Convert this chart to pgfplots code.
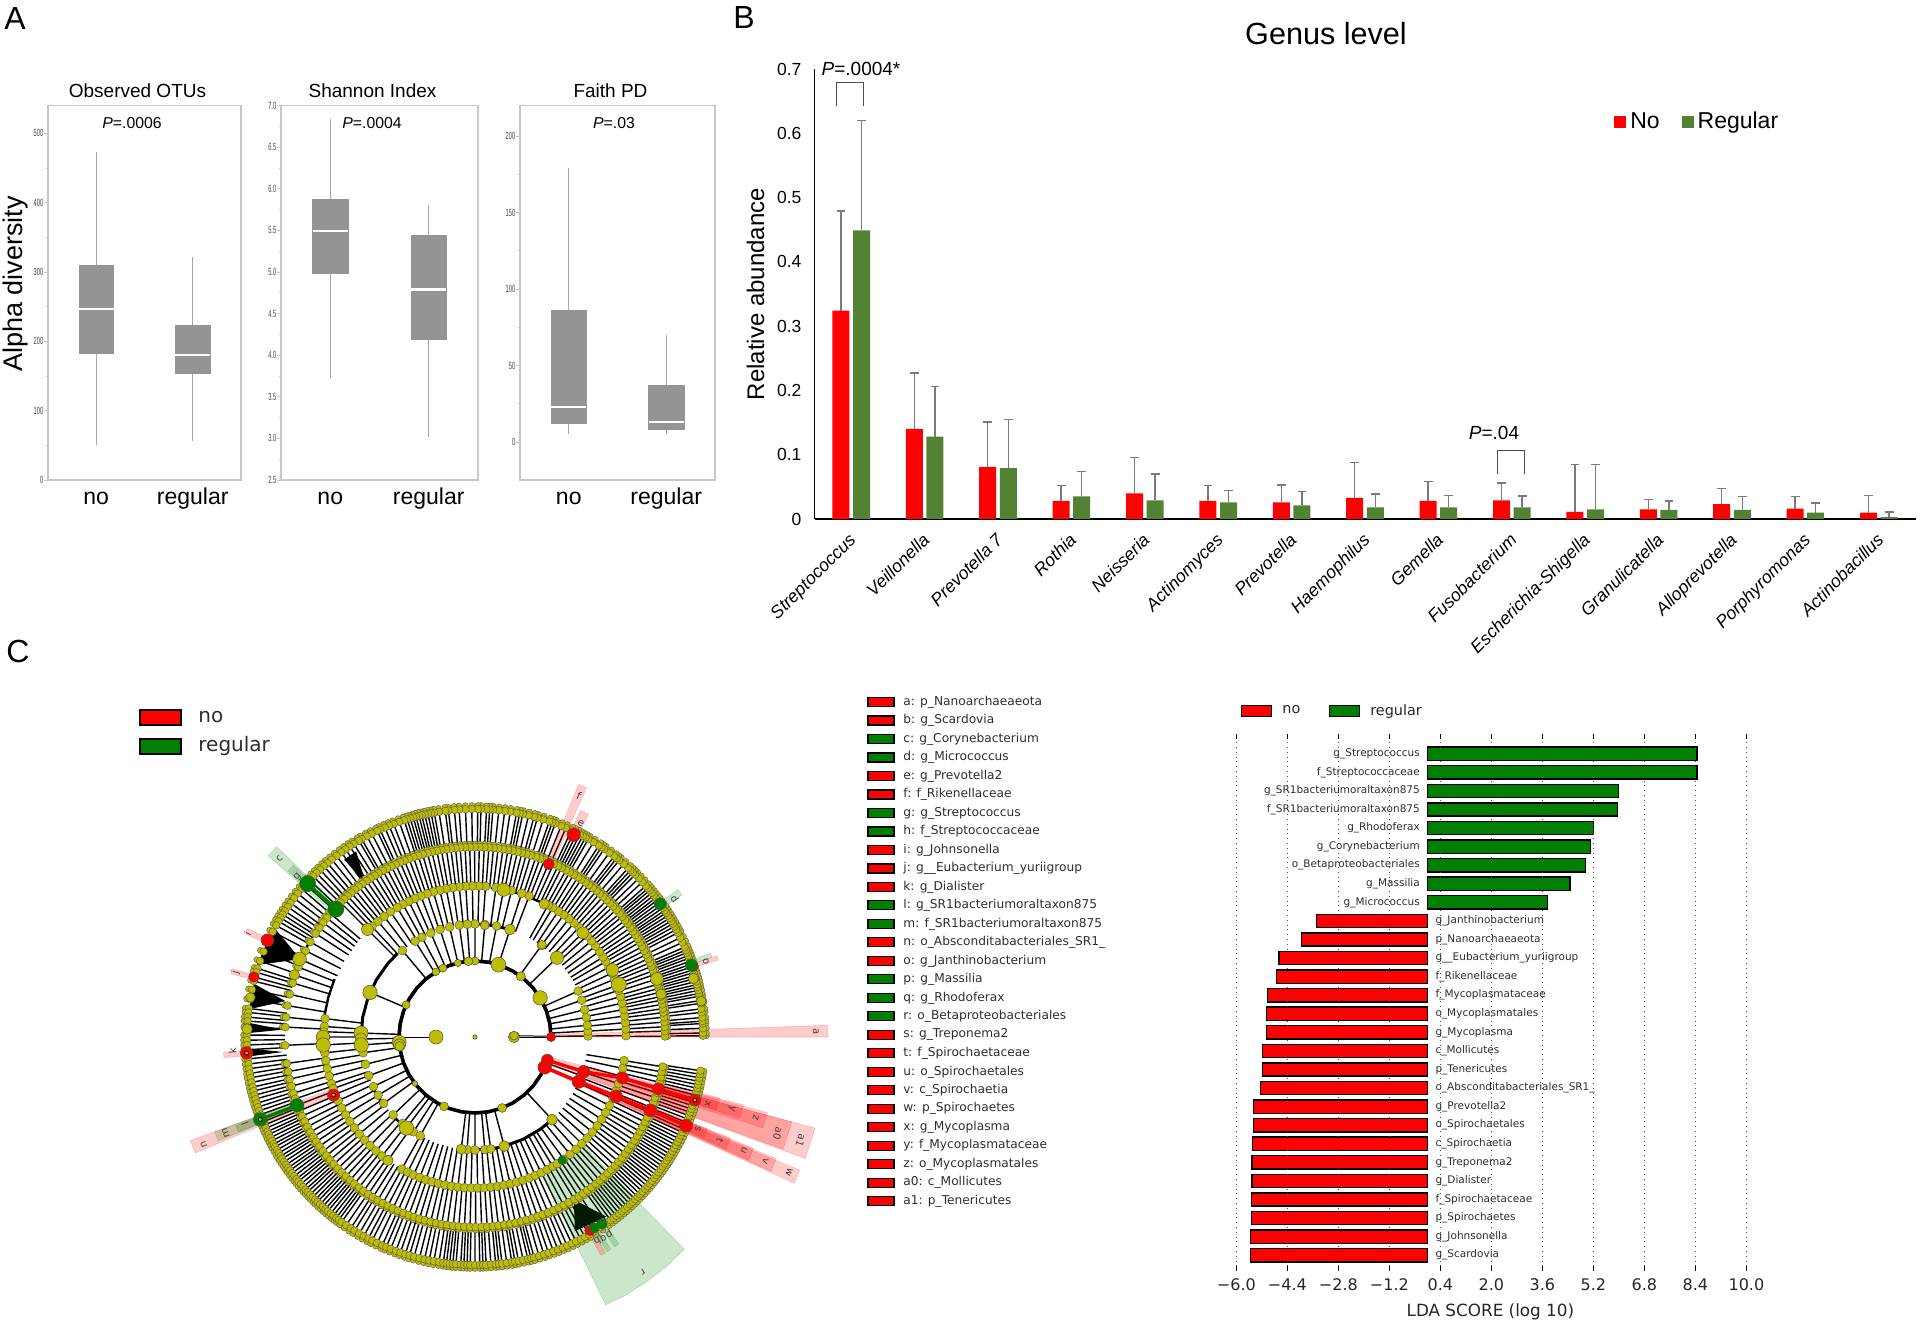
\documentclass[border=0pt]{standalone}
\usepackage{fontspec}
\usepackage{pgfplots}
\usepackage{pgfplotstable}
\pgfplotsset{compat=1.18}
\usepgfplotslibrary{polar}
\setmainfont{Liberation Sans}
\newfontfamily\dejavu{DejaVu Sans}
\newcommand{\fs}[1]{\fontsize{#1}{#1}\selectfont}
\definecolor{rd}{RGB}{255,0,0}
\definecolor{gn}{RGB}{0,128,0}
\definecolor{gnB}{RGB}{84,130,53}
\definecolor{ly}{RGB}{190,190,0}
\definecolor{boxg}{RGB}{148,148,148}
\definecolor{wisk}{RGB}{166,166,166}
\definecolor{spine}{RGB}{200,200,200}
\definecolor{txt}{RGB}{45,45,45}

% panel A, one style for the three box axes
\pgfplotsset{
  alpha/.style={
    scale only axis, clip=false, xmin=0, xmax=2, xtick={0.5,1.5}, xticklabels={no,regular},
    axis line style={spine, line width=0.6pt},
    x tick style={draw=none}, ytick pos=left, tick align=outside,
    y tick style={spine, line width=0.4pt}, major tick length=2pt, minor tick length=1.2pt,
    minor y tick num=1,
    xticklabel style={font=\fs{11.5}, anchor=base, yshift=-10.3pt},
    yticklabel style={font=\fs{5.2}, xscale=0.55, text=black!75, inner sep=0.5pt},
    /pgf/number format/assume math mode=true,
    title style={font=\fs{9.5}, at={(axis description cs:0.5,1)}, anchor=base, yshift=-1.8pt, xshift=-3.5pt},
  },
  wh/.style={wisk, line width=0.65pt},
  bx/.style={fill=boxg, draw=boxg, line width=0.3pt},
  md/.style={white, line width=1.1pt},
  nd/.style={only marks, mark=*, mark size=1.9pt, mark options={fill=ly, draw=black!65, line width=0.22pt}},
  big/.style={only marks, mark=*, scatter, scatter/use mapped color={draw=black!70, fill=#1}, line width=0.25pt,
    visualization depends on={\thisrow{s} \as \ms},
    scatter/@pre marker code/.append style={/tikz/mark size=\ms pt}},
  cover/.style={fill=white, draw=none, mark=none},
  sect/.style={fill=#1, fill opacity=0.2, draw=#1, draw opacity=0.2, line width=0.3pt},
  spoke/.style={polar comb, black, line width=0.7pt, mark=none},
  arc/.style={black, line width=#1, mark=none},
}

% genus level means and SD, panel B
\pgfplotstableread{
x y err
0 .324 .155
1 .140 .087
2 .081 .070
3 .028 .024
4 .040 .056
5 .028 .024
6 .026 .027
7 .033 .055
8 .028 .030
9 .029 .027
10 .011 .074
11 .015 .015
12 .023 .024
13 .016 .019
14 .010 .027
}\tabNo
\pgfplotstableread{
x y err
0 .449 .171
1 .128 .078
2 .079 .076
3 .035 .039
4 .029 .041
5 .026 .018
6 .021 .022
7 .018 .021
8 .018 .019
9 .018 .018
10 .015 .070
11 .014 .014
12 .014 .021
13 .010 .015
14 .003 .008
}\tabReg

% LDA scores
\pgfplotstableread{
y x lab
27 8.45 g\_Streptococcus
26 8.45 f\_Streptococcaceae
25 5.98 g\_SR1bacteriumoraltaxon875
24 5.96 f\_SR1bacteriumoraltaxon875
23 5.20 g\_Rhodoferax
22 5.11 g\_Corynebacterium
21 4.96 o\_Betaproteobacteriales
20 4.47 g\_Massilia
19 3.75 g\_Micrococcus
}\ldaReg
\pgfplotstableread{
y x lab
18 -3.48 g\_Janthinobacterium
17 -3.955 p\_Nanoarchaeaeota
16 -4.66 g\_\_Eubacterium\_yuriigroup
15 -4.74 f\_Rikenellaceae
14 -5.03 f\_Mycoplasmataceae
13 -5.05 o\_Mycoplasmatales
12 -5.05 g\_Mycoplasma
11 -5.19 c\_Mollicutes
10 -5.19 p\_Tenericutes
9 -5.25 o\_Absconditabacteriales\_SR1\_
8 -5.47 g\_Prevotella2
7 -5.47 o\_Spirochaetales
6 -5.49 c\_Spirochaetia
5 -5.51 g\_Treponema2
4 -5.51 g\_Dialister
3 -5.53 f\_Spirochaetaceae
2 -5.53 p\_Spirochaetes
1 -5.56 g\_Johnsonella
0 -5.56 g\_Scardovia
}\ldaNo

% cladogram: angles of the tips on each ring
\pgfplotstableread[header=false,row sep=\\]{
0.3\\1.0\\2.2\\3.4\\4.0\\4.9\\6.2\\7.1\\8.5\\9.2\\10.3\\11.0\\11.8\\12.6\\13.3\\14.1\\14.9\\15.6\\16.4\\17.1\\17.9\\18.6\\19.4\\20.2\\20.9\\21.7\\22.4\\23.2\\24.5\\25.8\\27.2\\28.1\\29.0\\29.8\\30.6\\31.4\\32.2\\33.0\\33.7\\34.5\\35.3\\36.1\\36.9\\37.6\\38.4\\39.2\\40.0\\40.7\\41.5\\42.8\\44.1\\45.4\\46.2\\47.0\\47.8\\49.3\\50.8\\51.6\\52.4\\53.9\\55.5\\56.3\\57.1\\58.7\\60.2\\
61.0\\61.8\\62.6\\63.4\\64.2\\65.0\\66.5\\67.8\\69.4\\70.2\\71.0\\72.6\\74.1\\75.0\\76.4\\77.9\\78.7\\79.5\\81.1\\82.5\\84.0\\85.5\\86.3\\87.1\\88.5\\89.3\\90.8\\92.4\\94.0\\95.2\\96.7\\97.5\\99.1\\100.3\\101.1\\101.9\\102.7\\103.5\\104.2\\105.0\\105.7\\106.5\\107.3\\108.1\\109.4\\110.9\\112.1\\113.3\\114.6\\115.4\\116.9\\118.3\\119.8\\120.6\\122.1\\123.3\\124.6\\125.9\\127.4\\128.9\\130.3\\131.5\\132.8\\134.0\\135.2\\136.5\\138.0\\139.5\\141.0\\142.5\\144.0\\145.2\\146.5\\147.5\\148.5\\149.5\\150.7\\
152.5\\155.0\\158.0\\160.5\\162.5\\163.5\\164.8\\165.8\\168.0\\170.5\\172.8\\173.8\\175.0\\176.0\\177.5\\179.5\\180.8\\182.0\\183.2\\185.5\\186.8\\188.0\\189.2\\190.3\\191.5\\192.7\\193.7\\194.8\\195.8\\196.9\\197.9\\198.9\\199.9\\200.9\\201.8\\202.7\\203.6\\204.5\\205.3\\206.2\\207.1\\208.0\\208.8\\209.7\\210.6\\211.5\\212.3\\213.2\\214.1\\215.0\\215.8\\216.7\\217.6\\218.5\\219.3\\220.2\\221.1\\222.0\\222.8\\223.7\\224.6\\225.5\\226.3\\227.2\\228.1\\229.0\\229.8\\230.7\\231.6\\232.5\\233.3\\234.2\\235.6\\237.0\\238.1\\239.5\\240.8\\242.1\\243.2\\244.6\\246.0\\247.1\\248.3\\249.7\\250.9\\252.2\\253.3\\254.5\\255.9\\257.2\\258.4\\259.6\\260.9\\262.0\\262.8\\263.6\\264.4\\265.2\\266.4\\267.2\\268.0\\268.8\\270.0\\271.2\\272.0\\272.8\\274.0\\275.2\\276.0\\276.8\\278.0\\279.3\\280.1\\281.0\\282.2\\283.4\\284.2\\285.0\\286.3\\287.6\\288.8\\290.1\\291.3\\292.6\\293.8\\295.1\\296.3\\297.6\\298.8\\300.0\\
301.5\\303.5\\305.5\\306.5\\307.4\\308.3\\309.2\\310.1\\311.0\\311.9\\312.8\\313.7\\314.6\\315.5\\316.4\\317.3\\318.2\\319.1\\320.0\\320.9\\321.8\\322.7\\323.6\\324.5\\325.4\\326.3\\327.2\\328.1\\329.0\\329.9\\330.8\\331.7\\332.6\\333.5\\334.4\\335.3\\336.2\\337.1\\338.0\\338.9\\339.8\\340.7\\341.6\\342.5\\343.4\\344.3\\345.2\\346.1\\347.0\\347.9\\348.8\\349.7\\350.6\\351.5\\
}\ringF
\pgfplotstableread[header=false,row sep=\\]{
0.2\\1.8\\3.1\\4.5\\6.0\\7.4\\8.6\\9.9\\11.2\\12.3\\13.6\\14.8\\16.1\\17.7\\19.2\\20.4\\21.8\\23.0\\24.3\\25.7\\27.0\\28.4\\29.9\\31.1\\32.5\\33.8\\35.1\\36.6\\37.9\\39.3\\40.5\\42.0\\43.4\\44.7\\46.1\\47.6\\49.0\\50.3\\51.7\\53.2\\54.5\\56.0\\57.2\\58.7\\60.1\\61.4\\62.9\\64.1\\65.6\\67.0\\68.6\\70.0\\71.3\\72.9\\74.3\\75.7\\77.1\\78.6\\80.0\\81.5\\83.0\\84.4\\85.8\\87.2\\88.7\\90.1\\91.6\\93.0\\94.5\\95.9\\97.3\\98.7\\100.2\\101.6\\103.1\\104.5\\106.0\\107.4\\108.9\\110.3\\111.8\\113.2\\114.7\\116.1\\117.6\\119.0\\120.5\\121.9\\123.4\\124.8\\126.3\\127.7\\129.2\\130.6\\132.1\\133.5\\135.0\\139.5\\141.2\\143.0\\145.0\\147.0\\150.0\\153.0\\156.0\\158.4\\161.0\\163.5\\167.0\\170.5\\174.0\\177.0\\182.5\\188.0\\190.5\\192.8\\195.0\\197.2\\199.0\\201.0\\202.8\\204.6\\206.4\\208.2\\210.0\\211.7\\213.4\\215.1\\216.9\\218.6\\220.3\\222.0\\223.8\\225.5\\227.2\\228.9\\230.6\\232.4\\234.1\\235.8\\237.5\\239.2\\241.0\\242.7\\244.4\\246.1\\247.9\\249.6\\251.3\\253.0\\254.7\\256.5\\258.2\\259.9\\261.6\\263.4\\265.1\\266.8\\268.5\\270.2\\272.0\\273.7\\275.4\\277.1\\278.9\\280.6\\282.3\\284.0\\285.7\\287.5\\289.2\\290.9\\292.6\\294.4\\296.1\\297.8\\299.5\\301.5\\303.0\\304.6\\306.2\\307.8\\309.4\\311.0\\312.6\\314.2\\315.8\\317.4\\319.0\\320.6\\322.2\\323.8\\325.4\\327.0\\328.6\\330.2\\331.8\\333.4\\335.0\\336.6\\338.2\\339.8\\341.4\\343.0\\344.6\\346.2\\347.8\\349.4\\351.0\\
}\ringE
\pgfplotstableread[header=false,row sep=\\]{
0.5\\3.0\\5.5\\8.0\\10.5\\13.0\\15.5\\18.0\\20.0\\22.5\\25.0\\27.5\\30.0\\32.0\\34.5\\37.0\\39.5\\42.0\\44.0\\46.5\\49.0\\51.5\\54.0\\56.5\\59.0\\61.0\\69.0\\72.0\\76.0\\79.0\\82.0\\86.0\\88.5\\91.0\\93.5\\96.0\\98.5\\101.0\\103.5\\106.0\\108.5\\111.0\\113.5\\116.0\\118.5\\121.0\\124.0\\127.0\\130.0\\133.0\\135.0\\173.0\\176.0\\178.0\\180.0\\183.0\\186.0\\189.0\\192.0\\195.0\\198.0\\200.0\\202.3\\205.0\\208.0\\211.0\\214.0\\217.0\\220.0\\223.0\\226.0\\229.0\\232.0\\234.8\\241.0\\243.5\\246.0\\248.5\\251.0\\253.5\\256.0\\258.5\\261.0\\263.5\\266.0\\268.5\\271.0\\273.5\\276.0\\278.5\\281.0\\283.5\\286.0\\288.5\\291.0\\293.5\\296.0\\298.5\\301.0\\303.0\\306.0\\309.0\\312.0\\315.0\\318.0\\321.0\\324.0\\327.0\\330.0\\333.0\\336.0\\339.0\\342.0\\345.0\\348.0\\351.0\\
}\ringD
\pgfplotstableread[header=false,row sep=\\]{
0.5\\3.0\\6.0\\10.0\\14.0\\19.0\\24.0\\44.0\\54.0\\72.0\\79.0\\85.0\\90.0\\94.0\\98.0\\103.0\\108.0\\113.0\\118.0\\122.0\\130.0\\157.0\\178.0\\181.0\\184.0\\188.0\\194.0\\200.0\\206.0\\211.0\\216.0\\223.6\\230.0\\233.0\\237.0\\241.0\\263.0\\266.0\\270.0\\275.0\\278.0\\285.0\\313.0\\336.5\\340.0\\342.3\\
}\ringC
% white discs between the rings
\pgfplotstableread[header=false,row sep=\\]{
0\\10\\20\\30\\40\\50\\60\\70\\80\\90\\100\\110\\120\\130\\140\\150\\160\\170\\180\\190\\200\\210\\220\\230\\240\\250\\260\\270\\280\\290\\300\\310\\320\\330\\340\\350\\
}\disc

% bigger nodes
\pgfplotstableread{
a r s
0 0 1.1
180 39 3.5
0 39 2.8
2 39 2.2
155 76 2.0
184 76 3.5
186 76 3.0
187 76 2.4
217.8 76 1.4
246 76 2.2
291 76 2.2
31 76 3.6
53 76 2.3
72 76 3.7
90 76 2.0
95 76 2.2
103 76 1.8
115 76 2.0
121 76 1.9
157 114 3.6
178 114 3.5
181 114 3.0
184 114 3.6
233 114 3.6
263 113 2.5
285 113 2.7
313 113 2.7
44 114 3.3
54 114 2.2
72 113 2.7
85 112 2.2
180 152 3.4
183 152 3.6
135 152 3.0
79 150 3.3
62.5 150 2.6
44 150 3.0
20 153 3.8
26 153 3.2
234.8 151 2.6
156 192 3.4
161 191 2.6
17.7 191 3.2
13 191 2.6
9 229 2.4
15 226 2.6
170 228 2.4
178 228 2.6
}\bigY
\pgfplotstableread{
a r s
0 76 2.3
342.2 76 3.0
336.5 76 3.4
342.3 114 3.1
336.7 113 3.3
344.5 153 3.0
337.2 153 3.2
344.2 190.6 3.0
337.3 190 3.2
344 228.7 3.0
337.2 229 3.2
66.9 188 2.8
64 225 3.4
155 229 3.2
164.8 229 2.6
184 229 3.1
202.3 153 3.0
18.0 229 2.8
300.7 225 2.6
}\bigR
\pgfplotstableread{
a r s
137.5 227 4.0
137.4 189 4.0
201 230 3.4
201 190.5 3.4
305.3 151 2.2
35.7 228 3.0
18.4 228 3.0
302 225 2.6
304.2 226 2.6
}\bigG

\begin{document}
\begin{tikzpicture}
\path[use as bounding box] (0pt,0pt) rectangle (960pt,661.5pt);

% ---- panel C, cladogram
\begin{polaraxis}[at={(57.5pt,-37pt)}, anchor=south west, width=360pt, height=360pt, scale only axis,
  hide axis, clip=false, xmin=0, xmax=360, ymin=0, ymax=360]
\addplot[spoke] table[x index=0,y index=0,y expr=228]{\ringF};
\addplot[cover] table[x index=0,y index=0,y expr=190]{\disc} --cycle;
\addplot[spoke] table[x index=0,y index=0,y expr=190]{\ringE};
\addplot[cover] table[x index=0,y index=0,y expr=151]{\disc} --cycle;
\addplot[spoke] table[x index=0,y index=0,y expr=151]{\ringD};
\addplot[cover] table[x index=0,y index=0,y expr=113]{\disc} --cycle;
\addplot[spoke] table[x index=0,y index=0,y expr=113]{\ringC};
\addplot[cover] table[x index=0,y index=0,y expr=76]{\disc} --cycle;
% solid fans where many tips share one parent
\addplot[fill=black,draw=black] coordinates {(156,192)(151.5,229)(161.5,229)} --cycle;
\addplot[fill=black,draw=black] coordinates {(169.3,194)(166.6,227)(172.8,227)} --cycle;
\addplot[fill=black,draw=black] coordinates {(177.8,195)(176.5,227)(178.9,227)} --cycle;
\addplot[fill=black,draw=black] coordinates {(184.4,196)(183,227)(184.8,227)} --cycle;
\addplot[fill=black,draw=black] coordinates {(125.3,191)(126.3,220)(122.8,220)} --cycle;
\addplot[fill=black,draw=black] coordinates {(301.3,191)(297.4,218)(306,222)} --cycle;
% arcs of the clades
\addplot[arc=1.8pt] coordinates {(0,76)(10,76)(20,76)(30,76)(40,76)(50,76)(60,76)(70,76)(80,76)(90,76)(100,76)(110,76)(120,76)(130,76)(140,76)(150,76)(160,76)(170,76)(180,76)(190,76)(200,76)(210,76)(220,76)(230,76)(240,76)(250,76)(260,76)(270,76)(280,76)(290,76)(300,76)(310,76)(320,76)(330,76)(342,76)};
\addplot[arc=1.5pt] coordinates {(133,114)(140,114)(150,114)(160,114)(170,114)(180,114)(185,114)};
\addplot[arc=1.5pt] coordinates {(72,113)(80,113)(88,113)};
\addplot[arc=1.5pt] coordinates {(263,113)(270,113)(280,113)(285,113)(295,113)(305,113)(313,113)};
\addplot[arc=1.2pt] coordinates {(223.6,114)(230,114)(235.8,114)};
\addplot[arc=1.2pt] coordinates {(205,114)(210,114)(215,114)};
\addplot[arc=1.2pt] coordinates {(157.6,152)(165,152)(172,152)(178,152)};
\addplot[arc=1.5pt] coordinates {(297,152)(303,152)(310,152)(315,152)};
\addplot[arc=1.2pt] coordinates {(64,150)(70,150)(76,150)(84,150)};
\addplot[arc=1.2pt] coordinates {(150,191)(155,191)(160,191)};
\addplot[black,line width=0.5pt] coordinates {(180,39)(180,76)};
\addplot[black,line width=0.5pt] coordinates {(0,39)(0,76)};
\addplot[black,line width=0.5pt] coordinates {(2,39)(0.5,76)};
% shaded clades
\addplot[sect=rd] coordinates {(0,76)(1.9,76)(1.9,353)(0,353)} --cycle;
\addplot[sect=rd] coordinates {(339.8,76)(345,76)(345,352)(339.8,352)} --cycle;
\addplot[sect=rd] coordinates {(340,114)(345,114)(345,328)(340,328)} --cycle;
\addplot[sect=rd] coordinates {(342.5,152)(345.5,152)(345.5,302)(342.5,302)} --cycle;
\addplot[sect=rd] coordinates {(343,190)(345.8,190)(345.8,277)(343,277)} --cycle;
\addplot[sect=rd] coordinates {(343.2,228)(346,228)(346,252)(343.2,252)} --cycle;
\addplot[sect=rd] coordinates {(335.4,76)(337.7,76)(337.7,351)(335.4,351)} --cycle;
\addplot[sect=rd] coordinates {(335.6,114)(338,114)(338,325)(335.6,325)} --cycle;
\addplot[sect=rd] coordinates {(335.8,152)(338.2,152)(338.2,300)(335.8,300)} --cycle;
\addplot[sect=rd] coordinates {(336,190)(338.4,190)(338.4,275)(336,275)} --cycle;
\addplot[sect=rd] coordinates {(336.2,228)(338.4,228)(338.4,250)(336.2,250)} --cycle;
\addplot[sect=gn] coordinates {(296,151)(315,151)(314.6,298)(310,299)(305,299)(300,299)(296,298)} --cycle;
\addplot[sect=rd] coordinates {(65.9,188)(67.7,188)(67.7,273)(65.9,273)} --cycle;
\addplot[sect=rd] coordinates {(63,225)(65,225)(65,250)(63,250)} --cycle;
\addplot[sect=gn] coordinates {(136.2,189)(138.8,189)(138.8,275)(136.2,275)} --cycle;
\addplot[sect=gn] coordinates {(136.6,227)(138.4,227)(138.4,250)(136.6,250)} --cycle;
\addplot[sect=gn] coordinates {(34.5,228)(36,228)(36,251)(34.5,251)} --cycle;
\addplot[sect=rd] coordinates {(17.6,228)(18.6,228)(18.6,255)(17.6,255)} --cycle;
\addplot[sect=gn] coordinates {(18.6,228)(19.6,228)(19.6,250)(18.6,250)} --cycle;
\addplot[sect=rd] coordinates {(154.5,228)(155.8,228)(155.8,252)(154.5,252)} --cycle;
\addplot[sect=rd] coordinates {(164.3,228)(165.5,228)(165.5,252)(164.3,252)} --cycle;
\addplot[sect=rd] coordinates {(183.5,228)(184.7,228)(184.7,252)(183.5,252)} --cycle;
\addplot[sect=rd] coordinates {(200,153)(202.5,153)(202.5,303)(200,303)} --cycle;
\addplot[sect=gn] coordinates {(200,190)(202,190)(202,277)(200,277)} --cycle;
\addplot[sect=gn] coordinates {(200.3,230)(201.9,230)(201.9,255)(200.3,255)} --cycle;
\addplot[sect=rd] coordinates {(300,225)(301.2,225)(301.2,252)(300,252)} --cycle;
\addplot[sect=gn] coordinates {(301.6,225)(302.6,225)(302.6,252)(301.6,252)} --cycle;
\addplot[sect=gn] coordinates {(303.6,225)(304.8,225)(304.8,252)(303.6,252)} --cycle;
% nodes on the rings
\addplot[nd,mark size=1.5pt] table[x index=0,y index=0,y expr=231.5]{\ringF};
\addplot[nd] table[x index=0,y index=0,y expr=228]{\ringF};
\addplot[nd,mark size=1.5pt] table[x index=0,y index=0,y expr=193]{\ringE};
\addplot[nd,mark size=2pt] table[x index=0,y index=0,y expr=190]{\ringE};
\addplot[nd,mark size=2.2pt] table[x index=0,y index=0,y expr=151]{\ringD};
\addplot[nd,mark size=2.2pt] table[x index=0,y index=0,y expr=113]{\ringC};
\addplot[big=ly] table[x=a,y=r]{\bigY};
% coloured clades
\addplot[rd,line width=1.7pt] coordinates {(342.2,76)(342.3,114)(344.5,153)(344.2,190.6)(344,228.7)};
\addplot[rd,line width=1.7pt] coordinates {(336.5,76)(336.7,113)(337.2,153)(337.3,190)(337.2,229)};
\addplot[gn,line width=1.7pt] coordinates {(137.4,189)(137.5,227)};
\addplot[gn,line width=1.7pt] coordinates {(201,190.5)(201,230)};
\addplot[big=rd] table[x=a,y=r]{\bigR};
\addplot[big=gn] table[x=a,y=r]{\bigG};
\addplot[only marks,mark=*,mark size=1pt,mark options={fill=ly,draw=none}] coordinates {(344,228.7)(202.3,153)(201,230)(184,229)};
% letters at the ends of the clades
\begin{scope}[every node/.style={font=\dejavu\fs{5},text=black!75,inner sep=0pt}]
\node[rotate=-89] at (axis cs:0.9,341) {a};
\node[rotate=-108] at (axis cs:342.3,342) {a1};
\node[rotate=-108] at (axis cs:342.3,318) {a0};
\node[rotate=-106] at (axis cs:344,292) {z};
\node[rotate=-106] at (axis cs:344.3,267) {y};
\node[rotate=-106] at (axis cs:344,242) {x};
\node[rotate=-113] at (axis cs:336.7,342) {w};
\node[rotate=-113] at (axis cs:336.8,316) {v};
\node[rotate=-113] at (axis cs:337.2,292) {u};
\node[rotate=-113] at (axis cs:337,266) {t};
\node[rotate=-113] at (axis cs:337.6,241) {s};
\node[rotate=-145] at (axis cs:305.5,289) {r};
\node[rotate=-23] at (axis cs:66.7,263) {f};
\node[rotate=-26] at (axis cs:63.6,238) {e};
\node[rotate=48] at (axis cs:137.6,265) {c};
\node[rotate=48] at (axis cs:137.9,239) {g};
\node[rotate=-55] at (axis cs:34.7,243) {d};
\node[rotate=-72] at (axis cs:18.1,243) {o};
\node[rotate=65] at (axis cs:155.5,250) {i};
\node[rotate=75] at (axis cs:165,248) {j};
\node[rotate=94] at (axis cs:183.3,243) {k};
\node[rotate=112] at (axis cs:201.7,292) {n};
\node[rotate=112] at (axis cs:201,267) {m};
\node[rotate=112] at (axis cs:200.6,246) {l};
\node[rotate=-150] at (axis cs:301,238) {b};
\node[rotate=-150] at (axis cs:302.5,238) {q};
\node[rotate=-150] at (axis cs:304.2,238) {p};
\end{scope}
\end{polaraxis}

% ---- panel A
\begin{axis}[alpha, at={(24pt,421.5pt)}, anchor=south west, width=96.5pt, height=187.25pt,
  ymin=0, ymax=540, ytick={0,100,...,500}, title={Observed OTUs},
  ylabel={Alpha diversity}, ylabel style={font=\fs{13.5}, at={(axis description cs:-0.166,0.523)}, anchor=center}]
\addplot[wh] coordinates {(0.5,50)(0.5,473)};
\addplot[bx] coordinates {(0.32,182)(0.68,182)(0.68,310)(0.32,310)} --cycle;
\addplot[md] coordinates {(0.32,247)(0.68,247)};
\addplot[wh] coordinates {(1.5,56)(1.5,321)};
\addplot[bx] coordinates {(1.32,154)(1.68,154)(1.68,223)(1.32,223)} --cycle;
\addplot[md] coordinates {(1.32,180)(1.68,180)};
\end{axis}
\begin{axis}[alpha, at={(140.5pt,421.5pt)}, anchor=south west, width=98.5pt, height=187.25pt,
  ymin=2.5, ymax=7, ytick={2.5,3,...,7}, title={Shannon Index},
  /pgf/number format/fixed, /pgf/number format/fixed zerofill, /pgf/number format/precision=1]
\addplot[wh] coordinates {(0.5,3.73)(0.5,6.84)};
\addplot[bx] coordinates {(0.32,4.98)(0.68,4.98)(0.68,5.87)(0.32,5.87)} --cycle;
\addplot[md] coordinates {(0.32,5.49)(0.68,5.49)};
\addplot[wh] coordinates {(1.5,3.02)(1.5,5.81)};
\addplot[bx] coordinates {(1.32,4.19)(1.68,4.19)(1.68,5.44)(1.32,5.44)} --cycle;
\addplot[md] coordinates {(1.32,4.79)(1.68,4.79)};
\end{axis}
\begin{axis}[alpha, at={(260pt,421.5pt)}, anchor=south west, width=97.5pt, height=187.25pt,
  ymin=-24.7, ymax=219.9, ytick={0,50,...,200}, title={Faith PD}]
\addplot[wh] coordinates {(0.5,5.5)(0.5,178.8)};
\addplot[bx] coordinates {(0.32,12.1)(0.68,12.1)(0.68,86.3)(0.32,86.3)} --cycle;
\addplot[md] coordinates {(0.32,23.2)(0.68,23.2)};
\addplot[wh] coordinates {(1.5,5.5)(1.5,70.2)};
\addplot[bx] coordinates {(1.32,8.4)(1.68,8.4)(1.68,37)(1.32,37)} --cycle;
\addplot[md] coordinates {(1.32,13)(1.68,13)};
\end{axis}

% ---- panel B
\begin{axis}[at={(407.25pt,402pt)}, anchor=south west, width=550.5pt, height=225pt, scale only axis, clip=false,
  xmin=-0.5, xmax=14.5, ymin=0, ymax=0.7, axis x line=bottom, axis y line=left,
  x axis line style={-, line width=0.9pt}, y axis line style={-, line width=0.5pt},
  xtick={0,...,14}, ytick={0,0.1,...,0.7}, yticklabels={0,0.1,0.2,0.3,0.4,0.5,0.6,0.7},
  major tick length=0pt,
  xticklabels={Streptococcus,Veillonella,Prevotella 7,Rothia,Neisseria,Actinomyces,Prevotella,Haemophilus,Gemella,Fusobacterium,Escherichia-Shigella,Granulicatella,Alloprevotella,Porphyromonas,Actinobacillus},
  xticklabel style={font=\itshape\fs{8.85}, anchor=north east, inner sep=0pt, xshift=-1.6pt, yshift=-6.25pt, rotate=45},
  yticklabel style={font=\fs{8.75}, xshift=-3pt},
  ylabel={Relative abundance}, ylabel style={font=\fs{12}, at={(axis description cs:-0.0535,0.5)}, anchor=center},
  legend style={at={(axis description cs:0.726,0.882)}, anchor=west, draw=none, fill=none, inner sep=0pt, legend columns=2, font=\fs{11.5},
    /tikz/every even column/.append style={column sep=9pt}},
  legend image code/.code={\fill[#1] (0pt,-3pt) rectangle (6pt,3pt);},
  error bars/error bar style={color=black!52, line width=0.7pt},
  error bars/error mark options={rotate=90, black!52, mark size=2.2pt, line width=0.7pt}]
\addplot[ybar, bar width=8.5pt, bar shift=0pt, fill=rd, draw=none,
  error bars/.cd, y dir=plus, y explicit] table[x expr=\thisrow{x}-0.1403,y=y,y error=err]{\tabNo};
\addlegendentry{No}
\addplot[ybar, bar width=8.5pt, bar shift=0pt, fill=gnB, draw=none,
  error bars/.cd, y dir=plus, y explicit] table[x expr=\thisrow{x}+0.1403,y=y,y error=err]{\tabReg};
\addlegendentry{Regular}
\end{axis}

% ---- panel C, LDA scores
\begin{axis}[at={(618.2pt,26pt)}, anchor=south west, width=255pt, height=268.5pt, scale only axis, clip=false,
  xmin=-6, xmax=10, ymin=-0.85, ymax=28.065, ytick=\empty,
  xtick={-6,-4.4,-2.8,-1.2,0.4,2,3.6,5.2,6.8,8.4,10},
  xticklabels={−6.0,−4.4,−2.8,−1.2,0.4,2.0,3.6,5.2,6.8,8.4,10.0},
  axis line style={draw=none}, xtick pos=both, tick align=inside, major tick length=2.5pt,
  tick style={black, line width=0.4pt}, axis on top,
  xmajorgrids, grid style={black!70, dotted, line width=0.4pt},
  xticklabel style={font=\dejavu\fs{8}, text=black!85, yshift=-0.5pt},
  xlabel={LDA SCORE (log 10)}, xlabel style={font=\dejavu\fs{8.4}, at={(axis description cs:0.498,-0.0753)}, anchor=center, text=black!85},
  legend style={at={(axis description cs:0.009,1.042)}, anchor=west, draw=none, fill=none, inner sep=0pt, legend columns=2, font=\dejavu\fs{7.2},
    text=black!85, /tikz/every odd column/.append style={column sep=3pt}, /tikz/every even column/.append style={column sep=12.5pt}},
  legend image code/.code={\filldraw[#1, draw=black, line width=0.5pt] (0pt,-2.75pt) rectangle (15pt,2.75pt);},
  nodes near coords style={font=\dejavu\fs{5.25}, text=txt, inner sep=0pt}]
\addplot[xbar, bar width=6.6pt, bar shift=0pt, fill=rd, draw=black, line width=0.7pt] table[x=x,y=y]{\ldaNo};
\addlegendentry{no}
\addplot[xbar, bar width=6.6pt, bar shift=0pt, fill=gn, draw=black, line width=0.7pt] table[x=x,y=y]{\ldaReg};
\addlegendentry{regular}
\addplot[forget plot, draw=none, mark=none, point meta=explicit symbolic, nodes near coords,
  nodes near coords style={anchor=east}] table[x expr=-0.235,y=y,meta=lab]{\ldaReg};
\addplot[forget plot, draw=none, mark=none, point meta=explicit symbolic, nodes near coords,
  nodes near coords style={anchor=west}] table[x expr=0.235,y=y,meta=lab]{\ldaNo};
\end{axis}

% ---- texts and keys placed by pixel
\begin{scope}[x=0.5pt,y=-0.5pt,shift={(0pt,661.5pt)}]
\node[anchor=base west,inner sep=0pt,font=\fs{16}] at (4,30) {A};
\node[anchor=base west,inner sep=0pt,font=\fs{16}] at (733,29) {B};
\node[anchor=base west,inner sep=0pt,font=\fs{16}] at (6,663) {C};
\node[font=\fs{7.9},inner sep=0pt] at (132,123) {\textit{P}=.0006};
\node[font=\fs{7.9},inner sep=0pt] at (372,123) {\textit{P}=.0004};
\node[font=\fs{7.9},inner sep=0pt] at (614,123) {\textit{P}=.03};
\node[font=\fs{15.3},inner sep=0pt] at (1326,34) {Genus level};
\node[font=\fs{9.5},inner sep=0pt] at (861,69) {\textit{P}=.0004*};
\node[font=\fs{9.5},inner sep=0pt] at (1494,433) {\textit{P}=.04};
\draw[black!70,line width=0.5pt] (836,106) -- (836,83) -- (863,83) -- (863,106);
\draw[black!70,line width=0.5pt] (1497,474) -- (1497,451) -- (1524,451) -- (1524,474);
% key of the cladogram
\filldraw[fill=rd,draw=black,line width=0.6pt] (140,710) rectangle (181,725);
\filldraw[fill=gn,draw=black,line width=0.6pt] (140,739) rectangle (181,754);
\node[anchor=west,inner sep=0pt,font=\dejavu\fs{10},text=txt] at (198,717) {no};
\node[anchor=west,inner sep=0pt,font=\dejavu\fs{10},text=txt] at (198,746) {regular};
% list of the clade letters
\foreach \t/\c [count=\i] in {a: p\_Nanoarchaeaeota/rd,b: g\_Scardovia/rd,c: g\_Corynebacterium/gn,d: g\_Micrococcus/gn,e: g\_Prevotella2/rd,f: f\_Rikenellaceae/rd,g: g\_Streptococcus/gn,h: f\_Streptococcaceae/gn,i: g\_Johnsonella/rd,j: g\_\_Eubacterium\_yuriigroup/rd,k: g\_Dialister/rd,l: g\_SR1bacteriumoraltaxon875/gn,m: f\_SR1bacteriumoraltaxon875/gn,n: o\_Absconditabacteriales\_SR1\_/rd,o: g\_Janthinobacterium/rd,p: g\_Massilia/gn,q: g\_Rhodoferax/gn,r: o\_Betaproteobacteriales/gn,s: g\_Treponema2/rd,t: f\_Spirochaetaceae/rd,u: o\_Spirochaetales/rd,v: c\_Spirochaetia/rd,w: p\_Spirochaetes/rd,x: g\_Mycoplasma/rd,y: f\_Mycoplasmataceae/rd,z: o\_Mycoplasmatales/rd,a0: c\_Mollicutes/rd,a1: p\_Tenericutes/rd}{
  \filldraw[fill=\c,draw=black,line width=0.6pt] (868,{702+(\i-1)*18.49-4.5}) rectangle (894,{702+(\i-1)*18.49+4.5});
  \node[anchor=west,inner sep=0pt,font=\dejavu\fs{6.1},text=txt] at (903,{702+(\i-1)*18.49}) {\t};
}
\end{scope}
\end{tikzpicture}
\end{document}
